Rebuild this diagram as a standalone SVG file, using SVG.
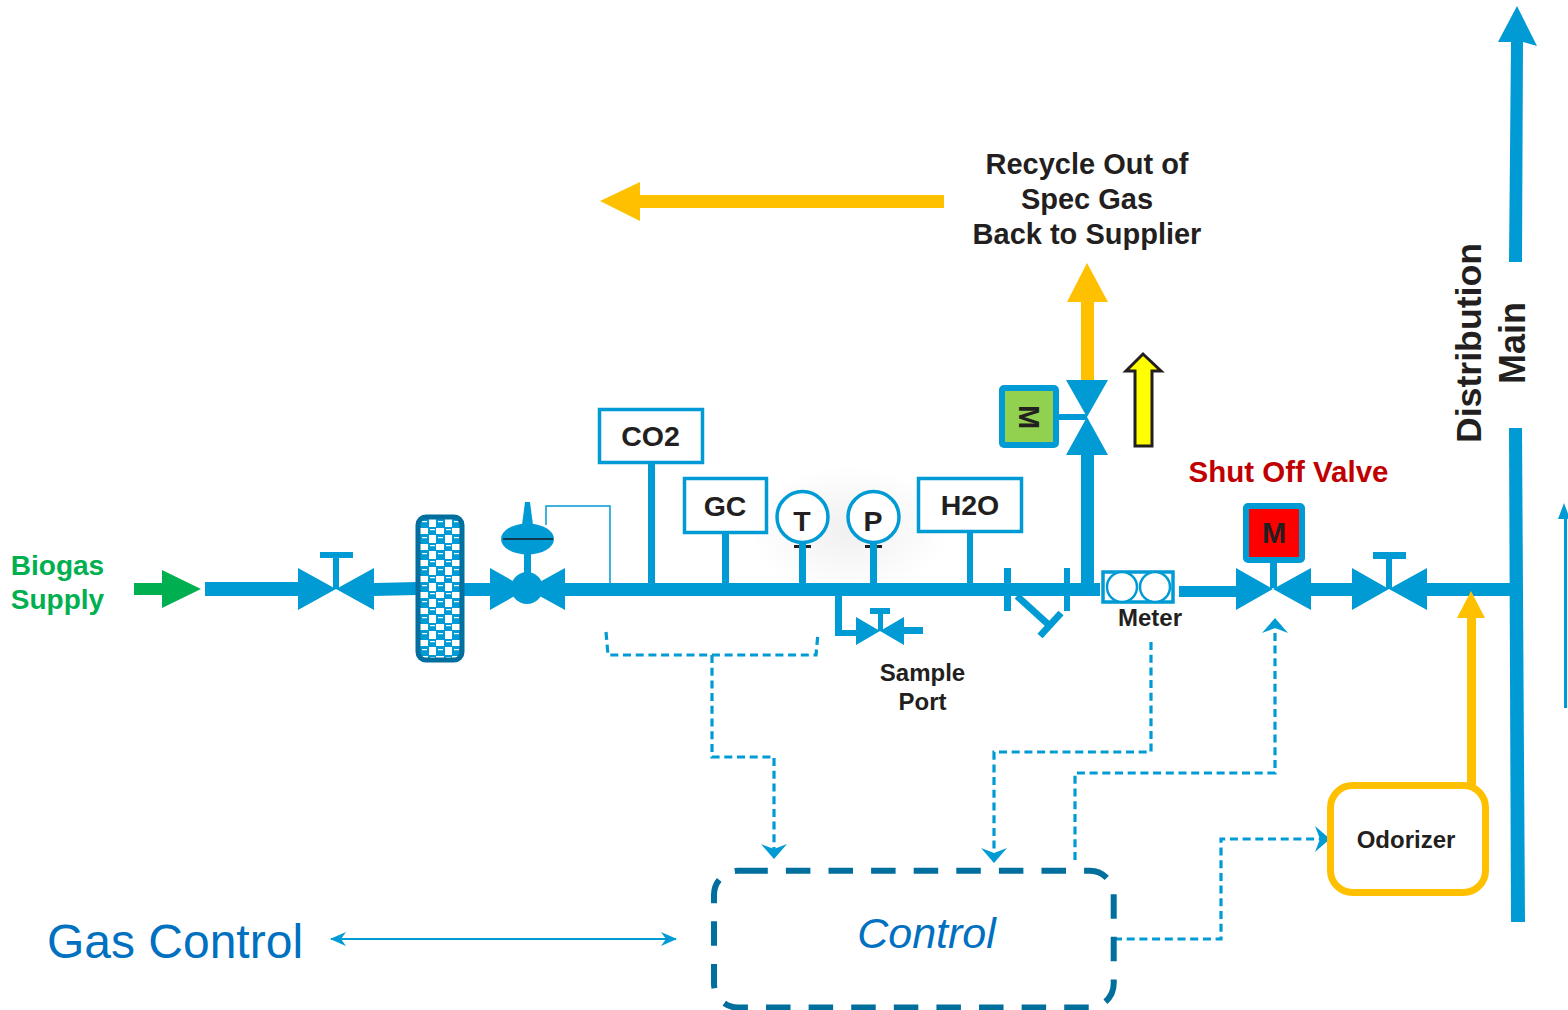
<svg xmlns="http://www.w3.org/2000/svg" width="1568" height="1010" viewBox="0 0 1568 1010">
<style>
text{font-family:"Liberation Sans",Arial,sans-serif;fill:#231f20;text-anchor:middle}
.b{font-weight:700}
.t{font-weight:700;font-size:29px}
.s{font-weight:700;font-size:28.500px}
.pipe{fill:#009bd4}
.ln{stroke:#009bd4;fill:none}
.box{fill:#fff;stroke:#009bd4;stroke-width:3.5}
.dash{stroke:#009bd4;fill:none;stroke-width:3.200;stroke-dasharray:8 4.700}
.or{fill:#ffc000}
</style>
<defs>
<pattern id="mesh" width="16" height="16" patternUnits="userSpaceOnUse" x="420" y="519">
<rect width="16" height="16" fill="#fff"/>
<rect x="0" y="0" width="9" height="9" fill="#009bd4"/>
<rect x="8" y="8" width="9" height="9" fill="#009bd4"/>
<rect x="0" y="15" width="9" height="1" fill="#009bd4"/>
<rect x="2" y="2" width="5" height="1.200" fill="#fff"/>
<rect x="10" y="10" width="5" height="1.200" fill="#fff"/>
</pattern>
<marker id="ah" viewBox="0 0 16 14" refX="15" refY="7" markerWidth="16" markerHeight="14" markerUnits="userSpaceOnUse" orient="auto-start-reverse">
<path d="M0 0L16 7L0 14L5 7Z" fill="#009bd4"/>
</marker>
<marker id="ahb" viewBox="0 0 15 26" refX="14" refY="13" markerWidth="15" markerHeight="26" markerUnits="userSpaceOnUse" orient="auto">
<path d="M0 0L15 13L0 26L5 13Z" fill="#009bd4"/>
</marker>
<radialGradient id="glow"><stop offset="0" stop-color="#000" stop-opacity=".06"/><stop offset="1" stop-color="#000" stop-opacity="0"/></radialGradient>
</defs>
<ellipse cx="850" cy="530" rx="100" ry="65" fill="url(#glow)"/>

<g id="connectors">
<path class="dash" d="M606 632L608 655H816L818 633"/>
<path class="dash" d="M712 655V757H774V858" marker-end="url(#ahb)"/>
<path class="dash" d="M1151 642V752H994V862" marker-end="url(#ahb)"/>
<path class="dash" d="M1075 860V773H1275V619" marker-end="url(#ahb)"/>
<path class="dash" d="M1114 939H1221V839H1329" marker-end="url(#ahb)"/>
<path d="M331 939H676" stroke="#009bd4" stroke-width="2" fill="none" marker-start="url(#ah)" marker-end="url(#ah)"/>
<path class="ln" stroke-width="1.5" d="M546 525V506H610V584"/>
</g>

<g id="pipework">
<path class="pipe" d="M205 582H298V596H205ZM374 583L417 582V595L374 596ZM463 583H490V596H463ZM565 583H1100V596H565ZM1179 586H1240V597H1179ZM1308 583H1355V596H1308ZM1424 583H1512V596H1424Z"/>
<path class="pipe" d="M1081 590V450H1094V590Z"/>
<path class="pipe" d="M1509 428H1522L1525 922H1511Z"/>
<path class="pipe" d="M1509 262L1511 42H1498L1517 6L1537 46L1523 42L1522 262Z"/>
<path class="pipe" d="M1564 503L1570 519H1567V708H1564V519H1558Z"/>
</g>

<g id="biogas-supply">
<path d="M134 583H162V570L201 589L162 608V595H134Z" fill="#00b050"/>
<text x="57.500" y="575" class="b" font-size="28" style="fill:#00b050">Biogas</text>
<text x="57.500" y="609" class="b" font-size="28" style="fill:#00b050">Supply</text>
</g>

<g id="hand-valve-1">
<path class="pipe" d="M298 568L336 589L374 568V610L336 589L298 610Z"/>
<path class="pipe" d="M333 558H339V589H333ZM320 552H353V558H320Z"/>
</g>

<g id="filter">
<rect x="418" y="517" width="44" height="143" rx="8" fill="url(#mesh)" stroke="#006f9e" stroke-width="5"/>
</g>

<g id="control-valve">
<path class="pipe" d="M490 568L527 589L565 568V610L527 589L490 610Z"/>
<circle class="pipe" cx="527" cy="588" r="16"/>
<rect class="pipe" x="524" y="550" width="7" height="25"/>
<ellipse class="pipe" cx="527.5" cy="539" rx="26.500" ry="15.500"/>
<path class="pipe" d="M525 502H530L533 525H522Z"/>
<path d="M503 539H553" stroke="#0b3c50" stroke-width="1.800"/>
</g>

<g id="co2">
<path class="pipe" d="M648 463H655V585H648Z"/>
<rect class="box" x="599.500" y="409.500" width="103" height="53"/>
<text x="650.500" y="446" class="s">CO2</text>
</g>
<g id="gc">
<path class="pipe" d="M722 533H729V585H722Z"/>
<rect class="box" x="684.500" y="478.500" width="82" height="54"/>
<text x="725" y="516" class="s">GC</text>
</g>
<g id="t-gauge">
<rect x="794" y="545" width="17" height="3" fill="#231f20"/>
<path class="pipe" d="M799 544H806V585H799Z"/>
<circle class="box" cx="802.500" cy="517" r="25.500"/>
<text x="802" y="531" class="s">T</text>
</g>
<g id="p-gauge">
<rect x="865" y="545" width="17" height="3" fill="#231f20"/>
<path class="pipe" d="M870 544H877V585H870Z"/>
<circle class="box" cx="873.500" cy="517" r="25.500"/>
<text x="873" y="531" class="s">P</text>
</g>
<g id="h2o">
<path class="pipe" d="M967 532H973V585H967Z"/>
<rect class="box" x="918.500" y="478.500" width="103" height="53"/>
<text x="970" y="515" class="s">H2O</text>
</g>

<g id="sample-port">
<path class="pipe" d="M835 596H842V630H860V636H835Z"/>
<path class="pipe" d="M856 617L880 631L904 617V645L880 631L856 645Z"/>
<path class="pipe" d="M878 614H883V631H878ZM870 608H890V614H870ZM900 627H923V634H900Z"/>
<text x="922.500" y="681" class="b" font-size="24">Sample</text>
<text x="922.500" y="710" class="b" font-size="24">Port</text>
</g>

<g id="strainer">
<path class="pipe" d="M1004 568H1011V611H1004ZM1064 568H1070V611H1064Z"/>
<path class="ln" stroke-width="7" d="M1017 596L1050 626"/>
<path class="ln" stroke-width="7" d="M1040 636L1061 613"/>
</g>

<g id="recycle-valve">
<path class="or" d="M1081 380V302H1067L1087 263L1108 302H1094V380Z"/>
<path class="pipe" d="M1066 380H1108L1087 417L1108 455H1066L1087 417Z"/>
<rect class="pipe" x="1056" y="414" width="31" height="6"/>
<rect x="1002" y="388" width="54" height="57" rx="2" fill="#92d050" stroke="#009bd4" stroke-width="6"/>
<text transform="translate(1019 417) rotate(90)" class="b" font-size="29">M</text>
<path d="M1143 354L1161 371H1152V446H1135V371H1126Z" fill="#ff0" stroke="#231f20" stroke-width="3"/>
</g>

<g id="recycle-label">
<path class="or" d="M600 201L640 182V195H944V208H640V221Z"/>
<text x="1087" y="174" class="t">Recycle Out of</text>
<text x="1087" y="209" class="t">Spec Gas</text>
<text x="1087" y="244" class="t">Back to Supplier</text>
</g>

<g id="meter">
<rect class="box" x="1103" y="572" width="70" height="30"/>
<circle cx="1122" cy="587" r="15" fill="#fff" stroke="#009bd4" stroke-width="2.500"/>
<circle cx="1155" cy="587" r="15" fill="#fff" stroke="#009bd4" stroke-width="2.500"/>
<text x="1150" y="626" class="b" font-size="24">Meter</text>
</g>

<g id="shut-off-valve">
<path class="pipe" d="M1236 568L1273 589L1311 568V610L1273 589L1236 610Z"/>
<rect class="pipe" x="1270" y="560" width="7" height="28"/>
<rect x="1246" y="506" width="56" height="54" rx="2" fill="#f00" stroke="#009bd4" stroke-width="6"/>
<text x="1274" y="543" class="b" font-size="29">M</text>
<text x="1288.500" y="482" class="b" font-size="29.500" style="fill:#c00000">Shut Off Valve</text>
</g>

<g id="hand-valve-2">
<path class="pipe" d="M1352 568L1389 589L1427 568V610L1389 589L1352 610Z"/>
<path class="pipe" d="M1386 558H1392V589H1386ZM1373 552H1406V559H1373Z"/>
</g>

<g id="odorizer">
<path class="or" d="M1467 785V618H1457L1471 591L1485 618H1476V785Z"/>
<rect x="1330.500" y="785.500" width="155" height="107" rx="22" fill="#fff" stroke="#ffc000" stroke-width="7"/>
<text x="1406" y="848" class="b" font-size="24">Odorizer</text>
</g>

<g id="distribution-main">
<text transform="translate(1481 343) rotate(-90)" class="b" font-size="35.700">Distribution</text>
<text transform="translate(1525 343) rotate(-90)" class="b" font-size="36">Main</text>
</g>

<g id="control">
<path d="M743.300 870.700H1090A24 24 0 0 1 1113.700 894.700V983.600A24 24 0 0 1 1090 1007.600H738A24 24 0 0 1 714 983.600V894.700A24 24 0 0 1 738 870.700Z" fill="none" stroke="#006f9e" stroke-width="6" stroke-dasharray="24.500 18.100"/>
<text x="926.500" y="948" font-size="43" font-style="italic" style="fill:#0070c0">Control</text>
</g>

<g id="gas-control">
<text x="175" y="958" font-size="48" style="fill:#0070c0">Gas Control</text>
</g>
</svg>
